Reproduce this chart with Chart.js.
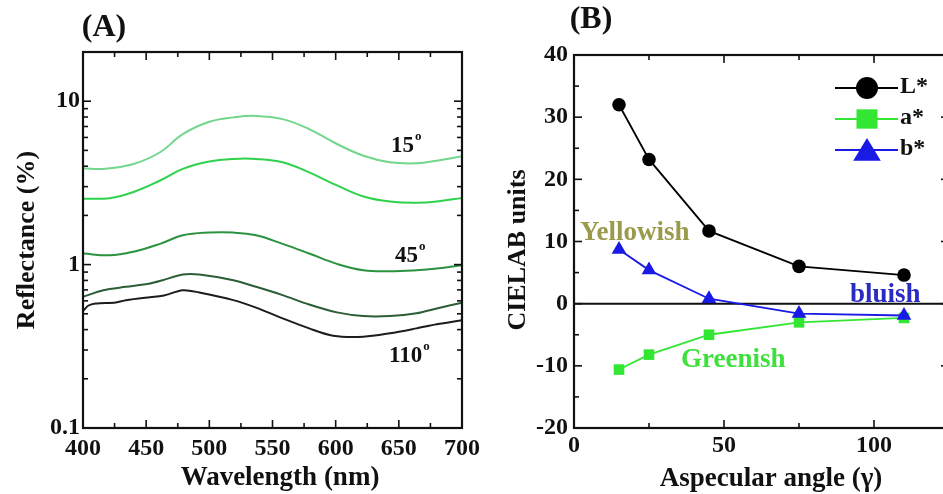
<!DOCTYPE html>
<html><head><meta charset="utf-8">
<script src="https://cdn.jsdelivr.net/npm/chart.js@4"></script>
<style>
html,body{margin:0;padding:0;background:#fff;overflow:hidden;width:943px;height:494px;}
#wa{position:absolute;left:0;top:0;width:490px;height:494px;}
#wb{position:absolute;left:470px;top:0;width:490px;height:494px;}
</style></head><body>
<div id="wa"><canvas id="ca"></canvas></div>
<div id="wb"><canvas id="cb"></canvas></div>
<script>
// ---------- Panel A: reflectance spectra (log scale, %) ----------
const wl15  = [400,416,440,461,479,500,519,537,558,579,601,622,643,664,680,700];
const ref15 = [3.89,3.85,4.13,4.87,6.29,7.48,7.96,8.13,7.77,6.75,5.47,4.64,4.23,4.17,4.32,4.60];
const wlS2  = [400,421,440,461,479,500,519,537,558,579,601,622,643,664,680,700];
const refS2 = [2.53,2.55,2.78,3.27,3.85,4.27,4.43,4.43,4.23,3.67,3.05,2.61,2.43,2.39,2.43,2.56];
const wl45  = [400,421,440,461,479,500,519,537,558,579,601,622,643,664,680,700];
const ref45 = [1.17,1.14,1.20,1.34,1.51,1.57,1.57,1.51,1.34,1.17,1.01,0.923,0.910,0.923,0.945,0.99];
const wlS4  = [400,416,434,453,463,479,492,519,537,558,579,601,622,643,664,680,700];
const refS4 = [0.635,0.697,0.731,0.766,0.802,0.869,0.869,0.802,0.731,0.650,0.570,0.510,0.484,0.484,0.503,0.539,0.584];
const wl110  = [400,404,410,426,434,453,463,479,492,519,537,558,579,598,622,643,664,680,700];
const ref110 = [0.519,0.560,0.578,0.587,0.606,0.632,0.644,0.697,0.675,0.606,0.545,0.469,0.407,0.367,0.362,0.380,0.407,0.431,0.457];
const yTickLabelsA = ['0.1','1','10'];

// ---------- Panel B: CIELAB vs aspecular angle ----------
const angles = [15,25,45,75,110];
const Lstar = [32.0,23.2,11.7,6.0,4.6];
const astar = [-10.6,-8.2,-5.0,-3.0,-2.3];
const bstar = [8.7,5.4,0.8,-1.6,-1.9];
const seriesNamesB = ['L*','a*','b*'];

const FONT = "'Liberation Serif', 'Times New Roman', serif";
Chart.defaults.font.family = FONT;
Chart.defaults.font.weight = 'bold';
Chart.defaults.color = '#111';

function pts(xs, ys){ return xs.map((x,i)=>({x:x, y:ys[i]})); }
function isPow10(v){ const l=Math.log10(v); return Math.abs(l-Math.round(l))<1e-6; }

// frame + inward ticks on all four sides
const frameTicks = {
  id:'frameTicks',
  afterDraw(chart, args, o){
    const {ctx, chartArea:a} = chart;
    const xs = chart.scales.x, ys = chart.scales.y;
    ctx.save();
    ctx.strokeStyle = '#111';
    ctx.lineWidth = 1.6;
    const ln=(x1,y1,x2,y2)=>{ctx.beginPath();ctx.moveTo(x1,y1);ctx.lineTo(x2,y2);ctx.stroke();};
    xs.ticks.forEach(t=>{
      const px = xs.getPixelForValue(t.value);
      if (px < a.left-0.5 || px > a.right+0.5) return;
      const len = o.majorX(t.value) ? 8 : 5;
      ln(px, a.bottom, px, a.bottom-len);
      ln(px, a.top, px, a.top+len);
    });
    ys.ticks.forEach(t=>{
      const py = ys.getPixelForValue(t.value);
      if (py < a.top-0.5 || py > a.bottom+0.5) return;
      const len = o.majorY(t.value) ? 8 : 5;
      ln(a.left, py, a.left+len, py);
      ln(a.right, py, a.right-len, py);
    });
    ctx.lineWidth = 2.2;
    ctx.strokeRect(a.left, a.top, a.right-a.left, a.bottom-a.top);
    ctx.restore();
  }
};

function deg(ctx, num, x, yBase, color){
  ctx.fillStyle = color || '#111';
  ctx.font = "bold 23px " + FONT;
  ctx.textAlign='left'; ctx.textBaseline='alphabetic';
  ctx.fillText(num, x, yBase);
  const w = ctx.measureText(num).width;
  ctx.font = "bold 13px " + FONT;
  ctx.fillText('o', x+w+1, yBase-12);
}
function txt(ctx, s, x, y, size, color, align, base, rot){
  ctx.save();
  ctx.translate(x,y);
  if (rot) ctx.rotate(rot);
  ctx.font = "bold " + size + "px " + FONT;
  ctx.fillStyle = color; ctx.textAlign = align || 'center'; ctx.textBaseline = base || 'middle';
  ctx.fillText(s,0,0);
  ctx.restore();
}

const annotA = {
  id:'annotA',
  afterDraw(chart){
    const ctx = chart.ctx;
    ctx.save();
    txt(ctx,'(A)',104,28,32,'#111');
    txt(ctx,'Wavelength (nm)',280,478,27,'#111');
    txt(ctx,'Reflectance (%)',27,240,26,'#111','center','middle',-Math.PI/2);
    deg(ctx,'15',391,152);
    deg(ctx,'45',395,262);
    deg(ctx,'110',389,362);
    ctx.restore();
  }
};

const OFF = 470; // panel B canvas offset in page
const annotB = {
  id:'annotB',
  beforeDatasetsDraw(chart){
    const {ctx, chartArea:a} = chart;
    const y0 = chart.scales.y.getPixelForValue(0);
    ctx.save();
    ctx.strokeStyle='#111'; ctx.lineWidth=2;
    ctx.beginPath(); ctx.moveTo(a.left,y0); ctx.lineTo(a.right,y0); ctx.stroke();
    ctx.restore();
  },
  afterDraw(chart){
    const ctx = chart.ctx;
    ctx.save();
    txt(ctx,'(B)',591-OFF,20,32,'#111');
    txt(ctx,'Aspecular angle (\u03b3)',771-OFF,479,27,'#111');
    txt(ctx,'CIELAB units',518-OFF,250,26,'#111','center','middle',-Math.PI/2);
    txt(ctx,'Yellowish',580-OFF,240,27,'#9a9a4a','left','alphabetic');
    txt(ctx,'bluish',850-OFF,302,27,'#2a2ac4','left','alphabetic');
    txt(ctx,'Greenish',681-OFF,367,27,'#3de03d','left','alphabetic');
    const rows = [88,119,150];
    chart.data.datasets.forEach((ds,i)=>{
      const y = rows[i];
      ctx.strokeStyle = ds.borderColor; ctx.lineWidth = 2;
      ctx.beginPath(); ctx.moveTo(835-OFF,y); ctx.lineTo(898-OFF,y); ctx.stroke();
      drawMarker(ctx, ds.pointStyle, 867-OFF, y, ds.legendSize, ds.backgroundColor);
      txt(ctx, ds.label, 900-OFF, y-1, 24, '#111', 'left', 'middle');
    });
    ctx.restore();
  }
};
function drawMarker(ctx, style, x, y, r, color){
  ctx.fillStyle = color;
  ctx.beginPath();
  if (style==='circle'){ ctx.arc(x,y,r,0,Math.PI*2); }
  else if (style==='rect'){ ctx.rect(x-r, y-r*0.92, 2*r, 1.84*r); }
  else if (style==='triangle'){ ctx.moveTo(x, y-r); ctx.lineTo(x+r*1.15, y+r*0.9); ctx.lineTo(x-r*1.15, y+r*0.9); ctx.closePath(); }
  ctx.fill();
}

function lineDs(label, xs, ys, color, tension){
  return {label, data:pts(xs,ys), borderColor:color, backgroundColor:color, borderWidth:2,
          pointRadius:0, tension:tension, fill:false};
}

new Chart(document.getElementById('ca'), {
  type:'line',
  data:{ datasets:[
    lineDs('15°', wl15, ref15, '#72d68c', 0.4),
    lineDs('s2', wlS2, refS2, '#2fd24c', 0.4),
    lineDs('45°', wl45, ref45, '#2b923f', 0.4),
    lineDs('s4', wlS4, refS4, '#2b5e37', 0.3),
    lineDs('110°', wl110, ref110, '#1c1c1c', 0.3)
  ]},
  options:{
    responsive:true, maintainAspectRatio:false, animation:false, devicePixelRatio:1,
    layout:{padding:{top:52,right:28,left:0,bottom:0}},
    plugins:{legend:{display:false}, tooltip:{enabled:false}, frameTicks:{
      majorX:v=>v%50===0, majorY:v=>isPow10(v)}},
    scales:{
      x:{type:'linear', min:400, max:700,
         ticks:{stepSize:25, autoSkip:false, maxRotation:0, padding:6, color:'#111',
                font:{size:24, weight:'bold'}, callback:v=> v%50===0 ? String(v) : ''},
         grid:{display:false, drawTicks:false}, border:{display:false},
         afterFit(s){ s.height = 66; }},
      y:{type:'logarithmic', min:0.1, max:20,
         afterBuildTicks(s){
           s.ticks = s.ticks.filter(t=>{
             const p = Math.pow(10, Math.floor(Math.log10(t.value)+1e-9));
             const m = t.value/p; return Math.abs(m-Math.round(m))<1e-6;
           });
         },
         ticks:{autoSkip:false, padding:3, color:'#111', font:{size:24, weight:'bold'},
                callback:v=>{ if(!isPow10(v)) return ''; const e=Math.round(Math.log10(v)); return yTickLabelsA[e+1]; }},
         grid:{display:false, drawTicks:false}, border:{display:false},
         afterFit(s){ s.width = 83; }}
    }
  },
  plugins:[frameTicks, annotA]
});

new Chart(document.getElementById('cb'), {
  type:'line',
  data:{ datasets:[
    {label:seriesNamesB[0], data:pts(angles,Lstar), borderColor:'#000', backgroundColor:'#000',
     borderWidth:1.8, pointStyle:'circle', pointRadius:6.8, pointBorderWidth:0, legendSize:11, order:0},
    {label:seriesNamesB[1], data:pts(angles,astar), borderColor:'#33e633', backgroundColor:'#33e633',
     borderWidth:1.8, pointStyle:'rect', pointRadius:7.5, pointBorderWidth:0, legendSize:10.5, order:2},
    {label:seriesNamesB[2], data:pts(angles,bstar), borderColor:'#1a1ae6', backgroundColor:'#1a1ae6',
     borderWidth:1.8, pointStyle:'triangle', pointRadius:8.5, pointBorderWidth:0, legendSize:12, order:1}
  ]},
  options:{
    responsive:true, maintainAspectRatio:false, animation:false, devicePixelRatio:1,
    layout:{padding:{top:55,right:11,left:0,bottom:0}},
    plugins:{legend:{display:false}, tooltip:{enabled:false}, frameTicks:{
      majorX:v=>v%50===0, majorY:v=>v%10===0}},
    scales:{
      x:{type:'linear', min:0, max:125,
         ticks:{stepSize:25, autoSkip:false, maxRotation:0, padding:3, color:'#111',
                font:{size:24, weight:'bold'}, callback:v=> v%50===0 ? String(v) : ''},
         grid:{display:false, drawTicks:false}, border:{display:false},
         afterFit(s){ s.height = 66; }},
      y:{type:'linear', min:-20, max:40,
         ticks:{stepSize:5, autoSkip:false, padding:6, color:'#111', font:{size:24, weight:'bold'},
                callback:v=> v%10===0 ? String(v) : ''},
         grid:{display:false, drawTicks:false}, border:{display:false},
         afterFit(s){ s.width = 104; }}
    }
  },
  plugins:[frameTicks, annotB]
});
</script>
</body></html>
